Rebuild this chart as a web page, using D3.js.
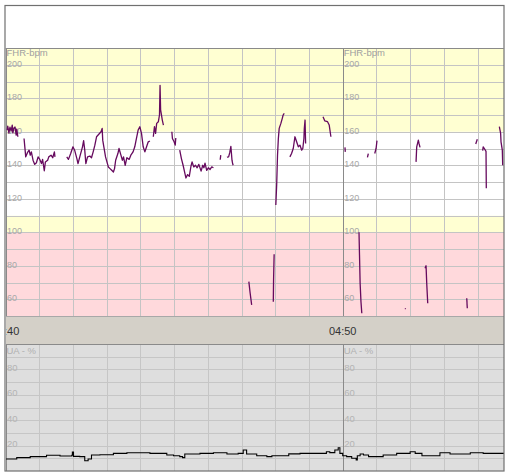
<!DOCTYPE html>
<html>
<head>
<meta charset="utf-8">
<script src="https://cdn.jsdelivr.net/npm/d3@7"></script>
<style>
  html, body { margin: 0; padding: 0; background: #fff; }
  svg { display: block; }
  text { font-family: Arial, "Liberation Sans", sans-serif; }
</style>
</head>
<body>
<svg id="chart" width="513" height="473"></svg>
<script>
// ---------------- DATA ----------------
// time in seconds after 04:40:00
const timeTicks = [0, 600];
const timeTickLabels = ["04:40", "04:50"];
const timeDomain = [0, 887];

const fhrDomain = [50, 210];
const fhrTickValues = [200, 180, 160, 140, 120, 100, 80, 60];
const fhrBandEdges = [50, 100, 110, 160, 210]; // pink, yellow, white, yellow

const uaDomain = [0, 100];
const uaTickValues = [80, 60, 40, 20];

// FHR trace (bpm) as separate segments (gaps = signal loss)
const fhrSegments = [
  [[3,161],[4,163.4],[6,159.3],[8,162.8],[10,160.4],[12,164],[13,159.3],[15,162.2],[17,162.8],[19,158],[20,161.6],[22,157]],
  [[33,156],[36,145],[39,147.5],[42,149],[44,146],[46,148],[49,143],[52,140.5],[55,141.5],[58,145],[61,143.5],[64,141],[66,143.5],[69,136.7],[71,142],[75,143],[77,145],[81,146],[84,144.5],[87,148],[88,145]],
  [[109,145],[112,143.5],[116,147],[120,151],[123,149],[127,144],[129,141],[133,146],[137,151],[139,154.7],[141,149],[143,141],[146,145],[150,145.5],[153,144.5],[156,148],[159,152],[162,157],[166,158.5],[170,160],[172,162],[173,155],[175,151],[178,145],[183,139],[186,138],[189,137],[192,136],[194,138],[196,143],[200,147],[202,150],[205,146.5],[208,143],[210,145],[213,140],[216,144.5],[220,143.5],[223,146],[227,148],[230,151],[233,156],[236,161],[239,163],[242,159],[245,151],[248,148],[251,151],[254,154],[257,154.5]],
  [[263,157],[265,163],[267,159],[269,165],[272,166],[274,170],[275,187.7],[276,173],[278,169],[279,167],[281,164]],
  [[296,160],[297,156],[300,154],[302,152],[303,156.3]],
  [[310,149],[313,144],[316,140],[319,135.4],[321,132.4],[324,134.4],[327,133.4],[330,139.4],[332,142],[335,139],[338,140],[341,138.5],[344,140.5],[348,136.5],[351,140],[353,138.5],[355,141.3],[358,137],[361,138.5],[364,137.5],[367,139],[370,138.5]],
  [[382,143.3],[383,146]],
  [[394,144.8],[397,145],[399,147.5],[401,151.3],[403,143],[404,141.3],[405,140]],
  [[433,70.5],[435,64.5],[438,56.6]],
  [[478,86.8],[477,72],[476.5,58.5]],
  [[481,116.3],[482.5,128.2],[484,146],[485.5,156],[487,162],[490,165],[492.5,168],[494,170],[496,171]],
  [[506,145],[509,147],[512,150],[515,157],[518,154],[521,151],[524,152],[527,149],[529,150],[531,156],[531.7,162],[533,167],[534,153]],
  [[565,169],[568,166.5],[573,166],[576,164],[579,157]],
  [[604,150.7],[604.6,148]],
  [[629,100],[631,69.5],[632.5,58.5],[634,51.6]],
  [[644,144.7],[645.6,147]],
  [[657,147],[659.4,150],[661,154.7]],
  [[711,54.6],[712,54.2]],
  [[730.5,142],[731.7,151],[734.6,155],[735.8,153],[737.6,150.7]],
  [[746.5,78.5],[748.3,80],[749.5,69.5],[751.3,57.6]],
  [[820.7,60.6],[821.7,54.6]],
  [[836.7,152.7],[839.5,155.5]],
  [[849,148.7],[850,151],[852,150],[855,148.3],[855.5,126.2]],
  [[878.7,163],[881,159],[881.7,154],[884,149],[884.7,140]]
];

// UA trace (%)
const uaTrace = [
  [0,9.4],[3,9.4],[20,10.5],[44,11.3],[73,12.4],[97,11.8],[118,12.4],[119,15],[121,11.5],[132,11.3],[141,8.1],[147,9.4],[153,12.6],[168,12.8],[192,13.9],[216,14.4],[239,14.4],[257,13.9],[281,13.9],[287,12.6],[299,12],[310,11.3],[315,10.5],[319,13.4],[334,13.4],[346,13.9],[370,14.4],[394,13.4],[414,13.9],[423,16.5],[429,13.4],[447,12],[465,11.3],[474,12],[500,12],[504,13.5],[524,13.9],[554,13.9],[571,15.2],[577,14.5],[586,16.5],[592,18.3],[595,13.9],[600,12],[607,11.3],[616,10],[624,8.7],[626,12],[631,13.4],[637,12.6],[646,11.3],[672,12.6],[696,13.9],[720,15.2],[729,13.9],[741,12],[764,12],[773,14.4],[791,13.4],[815,13.4],[827,14.4],[850,13.9],[880,13.9],[887,13.9]
];

// ---------------- LAYOUT ----------------
const svg = d3.select("#chart");
const L = 5.5, R = 504, TOP = 5, HDR = 48, FHR_B = 316, BAND_B = 344, UA_B = 471;

const x = d3.scaleLinear().domain(timeDomain).range([L, R]);
const yF = d3.scaleLinear().domain(fhrDomain).range([FHR_B, HDR]);
const yU = d3.scaleLinear().domain(uaDomain).range([UA_B, BAND_B]);

svg.append("defs").append("clipPath").attr("id", "clip")
  .append("rect").attr("x", L + 0.5).attr("y", HDR).attr("width", R - L - 0.5).attr("height", UA_B - HDR);

// header
svg.append("rect").attr("x", L).attr("y", TOP).attr("width", R - L).attr("height", HDR - TOP).attr("fill", "#fff");

// FHR bands
const bandColors = ["#ffd9dc", "#ffffd2", "#ffffff", "#ffffd2"];
const g = svg.append("g").attr("clip-path", "url(#clip)");
for (let i = 0; i < fhrBandEdges.length - 1; i++) {
  g.append("rect")
    .attr("x", L).attr("width", R - L)
    .attr("y", yF(fhrBandEdges[i + 1]))
    .attr("height", yF(fhrBandEdges[i]) - yF(fhrBandEdges[i + 1]))
    .attr("fill", bandColors[i]);
}
// time band
g.append("rect").attr("x", L).attr("width", R - L).attr("y", FHR_B).attr("height", BAND_B - FHR_B).attr("fill", "#d4d0c8");
// UA bg
g.append("rect").attr("x", L).attr("width", R - L).attr("y", BAND_B).attr("height", UA_B - BAND_B).attr("fill", "#dedede");

// grid - FHR
const minuteTicks = d3.range(0, timeDomain[1], 60);
const fhrGridAxis = d3.axisLeft(yF).tickValues(d3.range(50, 211, 10)).tickSize(-(R - L)).tickFormat("");
const fg = g.append("g").attr("transform", `translate(${L},0)`).call(fhrGridAxis);
fg.select(".domain").remove();
fg.selectAll("line").attr("stroke", "#c4c4c4").attr("shape-rendering", "crispEdges");

const xGridF = d3.axisTop(x).tickValues(minuteTicks).tickSize(-(FHR_B - HDR)).tickFormat("");
const xg1 = g.append("g").attr("transform", `translate(0,${HDR})`).call(xGridF);
xg1.select(".domain").remove();
xg1.selectAll("line").attr("stroke", d => d % 600 === 0 ? "#8a8a8a" : "#c4c4c4").attr("shape-rendering", "crispEdges");

// grid - UA
const uaGridAxis = d3.axisLeft(yU).tickValues(d3.range(0, 101, 10)).tickSize(-(R - L)).tickFormat("");
const ug = g.append("g").attr("transform", `translate(${L},0)`).call(uaGridAxis);
ug.select(".domain").remove();
ug.selectAll("line").attr("stroke", "#c6c6c6").attr("shape-rendering", "crispEdges");
const xGridU = d3.axisTop(x).tickValues(minuteTicks).tickSize(-(UA_B - BAND_B)).tickFormat("");
const xg2 = g.append("g").attr("transform", `translate(0,${BAND_B})`).call(xGridU);
xg2.select(".domain").remove();
xg2.selectAll("line").attr("stroke", d => d % 600 === 0 ? "#8a8a8a" : "#c6c6c6").attr("shape-rendering", "crispEdges");

// separators
g.append("line").attr("x1", L).attr("x2", R).attr("y1", FHR_B + 0.5).attr("y2", FHR_B + 0.5).attr("stroke", "#a8a8a8");
g.append("line").attr("x1", L).attr("x2", R).attr("y1", BAND_B + 0.5).attr("y2", BAND_B + 0.5).attr("stroke", "#8a8a8a");

// labels
timeTicks.forEach(t => {
  g.append("text").attr("x", x(t) + 1).attr("y", HDR + 5).attr("dy", "0.35em")
    .attr("font-size", 9.5).attr("fill", "#a0a0a0").text("FHR-bpm");
  fhrTickValues.forEach(v => {
    g.append("text").attr("x", x(t) + 1.5).attr("y", yF(v) - 1).attr("dy", "0.35em")
      .attr("font-size", 9).attr("fill", "#a8a8a8").text(v);
  });
  g.append("text").attr("x", x(t) + 1).attr("y", BAND_B + 6.5).attr("dy", "0.35em")
    .attr("font-size", 9.5).attr("fill", "#b0b0b0").text("UA - %");
  uaTickValues.forEach(v => {
    g.append("text").attr("x", x(t) + 1.5).attr("y", yU(v) - 2).attr("dy", "0.35em")
      .attr("font-size", 9.5).attr("fill", "#b4b4b4").text(v);
  });
});
timeTicks.forEach((t, i) => {
  g.append("text").attr("x", x(t)).attr("y", (FHR_B + BAND_B) / 2 + 1).attr("dy", "0.35em")
    .attr("text-anchor", "middle").attr("font-size", 11).attr("fill", "#333").text(timeTickLabels[i]);
});

// traces
const fLine = d3.line().x(d => x(d[0])).y(d => yF(d[1]));
g.selectAll("path.fhr").data(fhrSegments).join("path").attr("class", "fhr")
  .attr("d", fLine).attr("fill", "none").attr("stroke", "#660a5e").attr("stroke-width", 1.3)
  .attr("stroke-linejoin", "round");

const uLine = d3.line().x(d => x(d[0])).y(d => yU(d[1])).curve(d3.curveStepAfter);
g.append("path").datum(uaTrace).attr("d", uLine).attr("fill", "none")
  .attr("stroke", "#000").attr("stroke-width", 1.1);

// outer frame
svg.append("rect").attr("x", L - 0.5).attr("y", TOP + 0.5).attr("width", R - L + 0.5).attr("height", UA_B - TOP - 0.5)
  .attr("fill", "none").attr("stroke", "#707070").attr("stroke-width", 1.2);
svg.append("line").attr("x1", L).attr("x2", R).attr("y1", HDR + 0.5).attr("y2", HDR + 0.5).attr("stroke", "#8a8a8a");
</script>
</body>
</html>
